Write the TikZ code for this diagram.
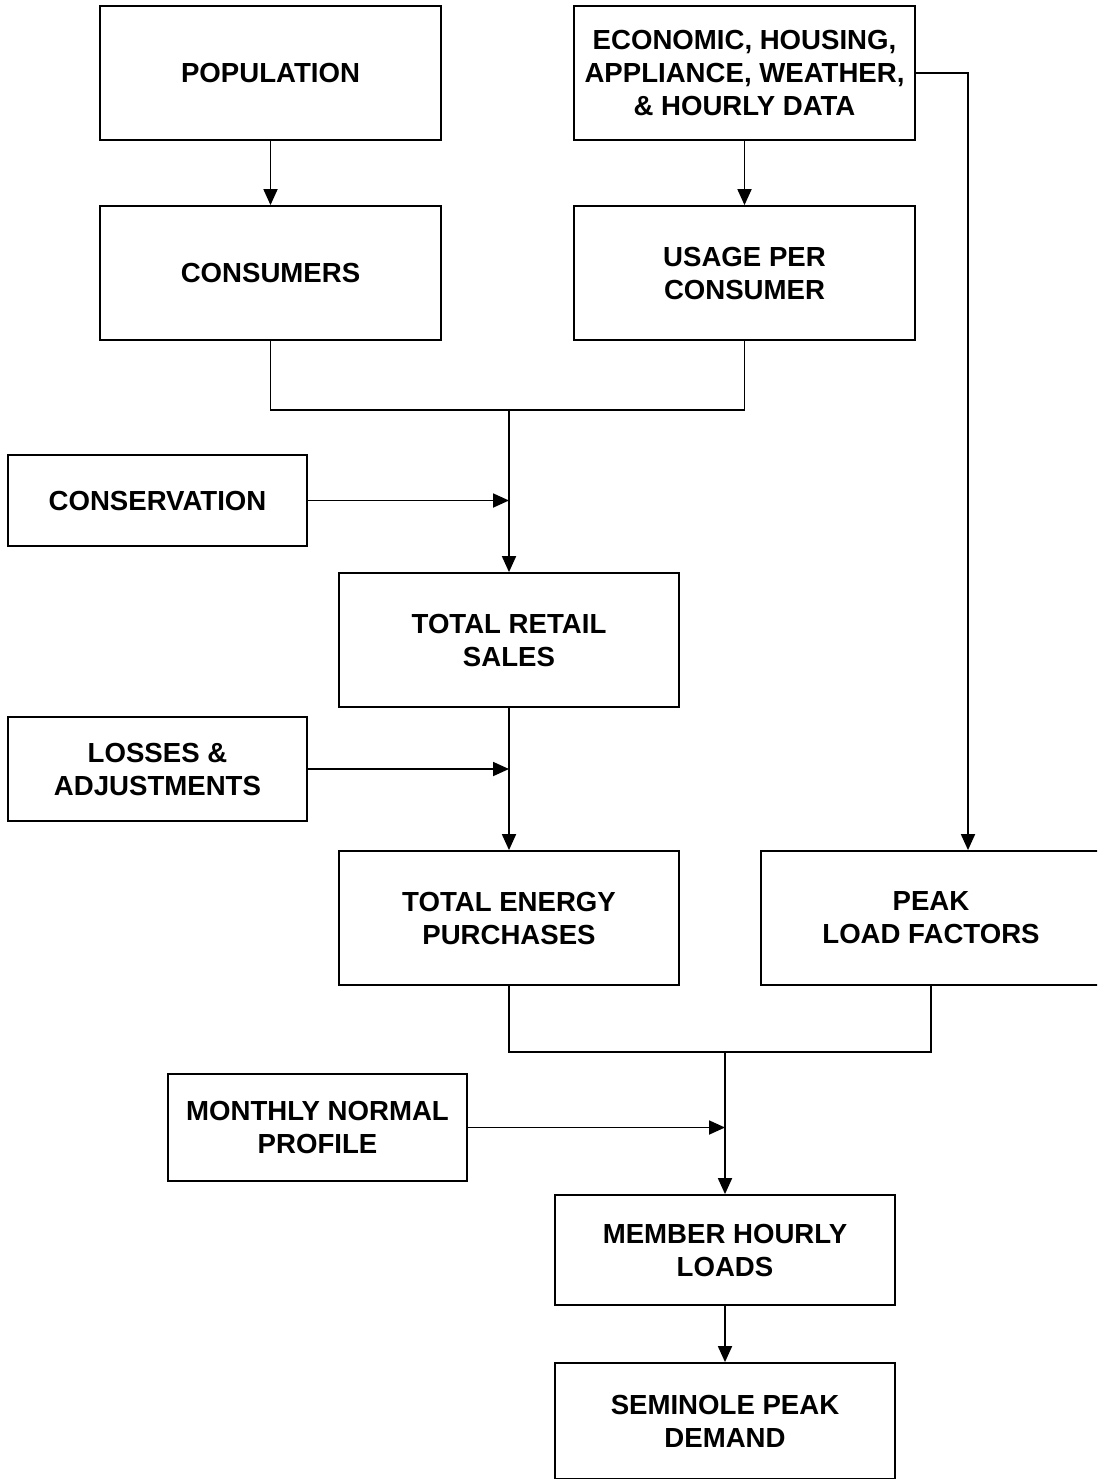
\documentclass[tikz,border=0pt]{standalone}
\usepackage{fontspec}
\setmainfont{Liberation Sans}
\usetikzlibrary{arrows.meta,calc}
\begin{document}
\begin{tikzpicture}[x=1pt,y=-1pt,
  box/.style={draw=black,line width=1.8pt,rectangle,align=center,inner sep=0pt,
    font=\bfseries\fontsize{27.6}{33}\selectfont},
  conn/.style={line width=1.8pt,draw=black},
  arr/.style={conn,-{Triangle[length=16pt,width=14pt]}}]
\useasboundingbox (0,0) rectangle (1097,1479);
\clip (0,0) rectangle (1097,1479);
% boxes
\node[box,minimum width=341pt,minimum height=134pt] (pop) at (270.5,73) {POPULATION};
\node[box,minimum width=341pt,minimum height=134pt] (econ) at (744.5,73) {ECONOMIC, HOUSING,\\APPLIANCE, WEATHER,\\\& HOURLY DATA};
\node[box,minimum width=341pt,minimum height=134pt] (cons) at (270.5,273) {CONSUMERS};
\node[box,minimum width=341pt,minimum height=134pt] (usage) at (744.5,273) {USAGE PER\\CONSUMER};
\node[box,minimum width=299pt,minimum height=91pt] (conserv) at (157.5,500.5) {CONSERVATION};
\node[box,minimum width=340pt,minimum height=134pt] (trs) at (509,640) {TOTAL RETAIL\\SALES};
\node[box,minimum width=299pt,minimum height=104pt] (loss) at (157.5,769) {LOSSES \&\\ADJUSTMENTS};
\node[box,minimum width=340pt,minimum height=134pt] (tep) at (509,918) {TOTAL ENERGY\\PURCHASES};
\node[box,minimum width=340pt,minimum height=134pt] (peak) at (931,918) {PEAK\\LOAD FACTORS};
\node[box,minimum width=299pt,minimum height=107pt] (mnp) at (317.5,1127.5) {MONTHLY NORMAL\\PROFILE};
\node[box,minimum width=340pt,minimum height=110pt] (mhl) at (725,1250) {MEMBER HOURLY\\LOADS};
\node[box,minimum width=340pt,minimum height=116pt] (spd) at (725,1421) {SEMINOLE PEAK\\DEMAND};
% junctions
\coordinate (j1) at (509,410);
\coordinate (j2) at (725,1052);
\coordinate (pkin) at ([xshift=37pt]peak.north);
% connectors
\draw[arr] (pop.south) -- (cons.north);
\draw[arr] (econ.south) -- (usage.north);
\draw[arr] (econ.east) -| (pkin);
\draw[conn] (cons.south) |- (j1) -| (usage.south);
\draw[arr] (j1) -- (trs.north);
\draw[arr] (conserv.east) -- (conserv.east -| trs.north);
\draw[arr] (trs.south) -- (tep.north);
\draw[arr] (loss.east) -- (loss.east -| tep.north);
\draw[conn] (tep.south) |- (j2) -| (peak.south);
\draw[arr] (j2) -- (mhl.north);
\draw[arr] (mnp.east) -- (mnp.east -| mhl.north);
\draw[arr] (mhl.south) -- (spd.north);
\end{tikzpicture}
\end{document}
